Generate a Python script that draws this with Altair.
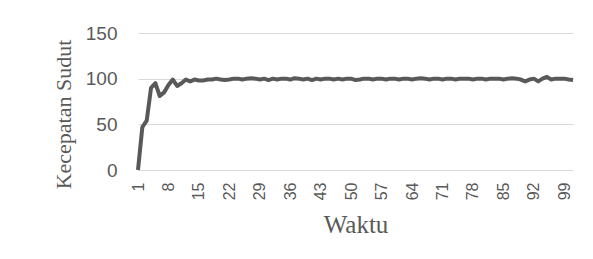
import altair as alt
import pandas as pd

values = [
    0, 47, 54, 90, 95, 81, 85, 93, 99, 92,
    95, 99, 97, 99, 98, 98, 99, 99, 100, 99,
    98.5, 99, 100, 100, 99, 100, 100.5, 100, 99, 100,
    98.5, 100, 99, 100, 100, 99, 100.5, 100, 99, 100,
    98.5, 100, 99, 100, 100, 99, 100, 99, 100, 100,
    98.5, 99, 100, 100, 99, 100, 100, 99, 100, 100,
    99, 100, 100, 99, 100, 100.5, 100, 99, 100, 100,
    99, 100, 100, 99, 100, 100, 100, 99, 100, 100,
    99, 100, 100, 100, 99, 100, 100.5, 100, 99, 97,
    99, 100, 97, 100, 102, 99, 100, 100, 100, 99,
    98.5,
]
times = list(range(1, len(values) + 1))
x_ticks = list(range(1, 100, 7))
y_ticks = [0, 50, 100, 150]

df = pd.DataFrame({"Waktu": times, "Kecepatan": values})

W, H = 435, 137

line = alt.Chart(df).mark_line(color="#595959", strokeWidth=4, strokeJoin="round").encode(
    x=alt.X("Waktu:Q",
            scale=alt.Scale(domain=[1, len(values)], nice=False, zero=False),
            axis=alt.Axis(values=x_ticks, title="Waktu", labelAngle=270, grid=False,
                          ticks=False, domain=True, domainColor="#d9d9d9", domainWidth=1,
                          labelFont="Liberation Sans", labelFontSize=16, labelColor="#595959",
                          labelPadding=12, titleFont="Liberation Serif", titleFontSize=25,
                          titleFontWeight="normal", titleColor="#595959",
                          titleY=62, titleBaseline="alphabetic")),
    y=alt.Y("Kecepatan:Q",
            scale=alt.Scale(domain=[0, 150], nice=False),
            axis=alt.Axis(values=y_ticks, title="Kecepatan Sudut", grid=True,
                          gridColor="#d9d9d9", gridWidth=1, ticks=False, domain=False,
                          labelFont="Liberation Sans", labelFontSize=19, labelColor="#595959",
                          labelPadding=21, titleFont="Liberation Serif", titleFontSize=22,
                          titleFontWeight="normal", titleColor="#595959",
                          titleX=-75, titleY=81, titleBaseline="middle")),
)

chart = line.properties(
    width=W, height=H,
    background="white",
    autosize=alt.AutoSizeParams(type="none"),
    padding={"left": 130, "top": 25, "right": 12, "bottom": 81},
).configure_view(stroke="transparent", strokeWidth=0)

chart.save("out.html", embed_options={"renderer": "svg", "actions": False})
